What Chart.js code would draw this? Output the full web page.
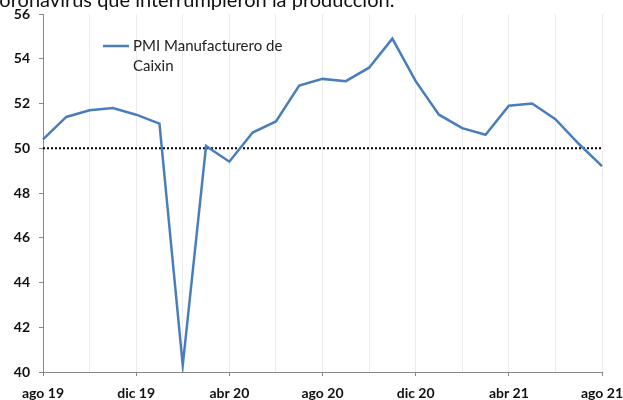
<!DOCTYPE html>
<html>
<head>
<meta charset="utf-8">
<script src="https://cdn.jsdelivr.net/npm/chart.js@4"></script>
<style>
    body { margin: 0; background: #fff; }
    #wrap { position: relative; width: 623px; height: 400px; }
</style>
</head>
<body>
<div id="wrap"><canvas id="pmiChart"></canvas></div>
<script>
// Datos
const months = [
    'ago 19', 'sep 19', 'oct 19', 'nov 19', 'dic 19', 'ene 20', 'feb 20', 'mar 20', 'abr 20',
    'may 20', 'jun 20', 'jul 20', 'ago 20', 'sep 20', 'oct 20', 'nov 20', 'dic 20',
    'ene 21', 'feb 21', 'mar 21', 'abr 21', 'may 21', 'jun 21', 'jul 21', 'ago 21'
];
const pmiValues = [
    50.4, 51.4, 51.7, 51.8, 51.5, 51.1, 40.3, 50.1, 49.4,
    50.7, 51.2, 52.8, 53.1, 53.0, 53.6, 54.9, 53.0,
    51.5, 50.9, 50.6, 51.9, 52.0, 51.3, 50.2, 49.2
];
const seriesLabel = ['PMI Manufacturero de', 'Caixin'];
const threshold = 50;
const yTicks = [40, 42, 44, 46, 48, 50, 52, 54, 56];
const titleText = 'coronavirus que interrumpieron la producción.';

const lineColor = '#4a7ebb';
const fontFamily = 'Lato, "Open Sans", sans-serif';

// Linea de 50 punteada, leyenda y texto superior
const extras = {
    id: 'extras',
    beforeDatasetsDraw(chart) {
        const { ctx, chartArea, scales } = chart;
        const y = scales.y.getPixelForValue(threshold);
        ctx.save();
        ctx.strokeStyle = '#000';
        ctx.lineWidth = 2;
        ctx.setLineDash([2, 2]);
        ctx.beginPath();
        ctx.moveTo(chartArea.left, y);
        ctx.lineTo(scales.x.getPixelForValue(months.length - 1), y);
        ctx.stroke();
        ctx.restore();
    },
    afterDraw(chart) {
        const { ctx } = chart;
        ctx.save();
        // leyenda
        ctx.strokeStyle = lineColor;
        ctx.lineWidth = 2.5;
        ctx.beginPath();
        ctx.moveTo(103, 46);
        ctx.lineTo(129, 46);
        ctx.stroke();
        ctx.fillStyle = '#222';
        ctx.font = '15px ' + fontFamily;
        ctx.textBaseline = 'middle';
        ctx.fillText(seriesLabel[0], 133, 46);
        ctx.fillText(seriesLabel[1], 133, 66);
        // titulo cortado
        ctx.font = '20px ' + fontFamily;
        ctx.textBaseline = 'alphabetic';
        ctx.fillStyle = '#111';
        ctx.fillText(titleText, -10, 7);
        ctx.restore();
    }
};

const ctx = document.getElementById('pmiChart').getContext('2d');
new Chart(ctx, {
    type: 'line',
    data: {
        labels: months,
        datasets: [{
            label: seriesLabel.join(' '),
            data: pmiValues,
            borderColor: lineColor,
            borderWidth: 2.5,
            pointRadius: 0,
            tension: 0,
            fill: false
        }]
    },
    options: {
        responsive: true,
        maintainAspectRatio: false,
        animation: false,
        layout: { padding: { top: 14, right: 21, left: 0, bottom: 0 } },
        plugins: {
            legend: { display: false },
            tooltip: { enabled: false }
        },
        scales: {
            x: {
                offset: false,
                afterFit(scale) {
                    scale.height = 28;
                    scale.paddingLeft = 0;
                    scale.paddingRight = 0;
                },
                border: { color: '#888', width: 1 },
                grid: {
                    color: c => (c.index % 2 === 0 && c.index > 0) ? '#ebebeb' : 'transparent',
                    tickColor: c => c.index % 4 === 0 ? '#888' : 'transparent',
                    tickLength: 4,
                    lineWidth: 1
                },
                ticks: {
                    autoSkip: false,
                    maxRotation: 0,
                    padding: 9,
                    color: '#111',
                    font: { family: fontFamily, size: 14, weight: 'bold' },
                    callback: function(value, index) {
                        return index % 4 === 0 ? months[index] : '';
                    }
                }
            },
            y: {
                min: yTicks[0],
                max: yTicks[yTicks.length - 1],
                afterFit(scale) {
                    scale.width = 43;
                    scale.paddingTop = 0;
                    scale.paddingBottom = 0;
                },
                afterBuildTicks(scale) { scale.ticks = yTicks.map(v => ({ value: v })); },
                border: { color: '#888', width: 1 },
                grid: {
                    drawOnChartArea: false,
                    tickColor: '#888',
                    tickLength: 4
                },
                ticks: {
                    padding: 9,
                    color: '#111',
                    font: { family: fontFamily, size: 14, weight: 'bold' }
                }
            }
        }
    },
    plugins: [extras]
});
</script>
</body>
</html>
